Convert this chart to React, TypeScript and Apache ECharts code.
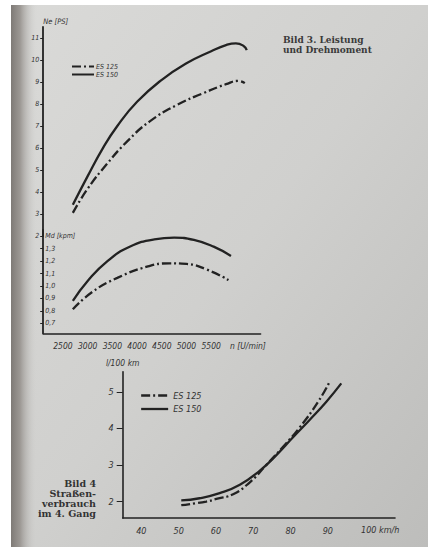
import React, { useEffect, useRef } from "react";
import * as echarts from "echarts";

// Bild 3: Leistung (Ne [PS]) über Drehzahl
const rpmPower125 = [2700, 3000, 3400, 3800, 4250, 4800, 5350, 5800, 6050, 6180];
const power125 = [3.05, 4.15, 5.3, 6.3, 7.2, 7.95, 8.5, 8.9, 9.05, 8.95];
const rpmPower150 = [2700, 3000, 3300, 3600, 4000, 4500, 5000, 5500, 5800, 6000, 6150, 6220];
const power150 = [3.42, 4.72, 5.96, 7.0, 8.1, 9.1, 9.85, 10.4, 10.68, 10.76, 10.65, 10.45];

// Bild 3: Drehmoment (Md [kpm]) über Drehzahl
const rpmTorque150 = [2700, 3000, 3400, 3850, 4350, 4750, 5150, 5550, 5900];
const torque150 = [0.88, 1.04, 1.2, 1.315, 1.375, 1.388, 1.37, 1.316, 1.241];
const rpmTorque125 = [2700, 3100, 3600, 4200, 4650, 5000, 5400, 5850];
const torque125 = [0.813, 0.954, 1.065, 1.155, 1.182, 1.177, 1.134, 1.048];

// Bild 4: Straßenverbrauch (l/100 km) über Geschwindigkeit
const speed150 = [50.7, 55.6, 61, 66.4, 71.7, 76.2, 80.6, 85.1, 89.6, 93.6];
const cons150 = [2.03, 2.09, 2.23, 2.46, 2.84, 3.27, 3.75, 4.23, 4.73, 5.23];
const speed125 = [50.7, 57.4, 60.1, 64.6, 69, 73.5, 78, 82.4, 87.4, 90.3];
const cons125 = [1.9, 2.0, 2.07, 2.2, 2.52, 3.0, 3.5, 4.02, 4.73, 5.24];

// tick labels
const rpmTicks = [2500, 3000, 3500, 4000, 4500, 5000, 5500];
const powerTicks = [2, 3, 4, 5, 6, 7, 8, 9, 10, 11];
const torqueTicks = [0.7, 0.8, 0.9, 1.0, 1.1, 1.2, 1.3];
const speedTicks = [40, 50, 60, 70, 80, 90];
const consTicks = [2, 3, 4, 5];
const seriesNames = ["ES 125", "ES 150"];

const zip = (xs: number[], ys: number[]) => xs.map((x, i) => [x, ys[i]]);

const INK = "#222";
const FONT = "'DejaVu Sans Condensed', 'Liberation Sans Narrow', 'DejaVu Sans', sans-serif";
const SERIF = "'DejaVu Serif', 'Liberation Serif', serif";
const DASHDOT = [9, 3, 2, 3];

export default function App() {
  const ref = useRef<HTMLDivElement>(null);
  useEffect(() => {
    if (!ref.current) return;
    const chart = echarts.init(ref.current, null, { renderer: "svg" });
    const line = (name: string, data: number[][], idx: number, dashed: boolean) => ({
      type: "line",
      name,
      data,
      xAxisIndex: idx,
      yAxisIndex: idx,
      smooth: 0.5,
      symbol: "none",
      lineStyle: { color: INK, width: 2.3, type: dashed ? DASHDOT : "solid" },
      itemStyle: { color: INK },
      z: 5,
    });
    const lbl = (size: number) => ({
      color: "#333",
      fontSize: size,
      fontStyle: "italic",
      fontFamily: FONT,
    });
    const plain = (v: number) => String(v);
    chart.setOption({
      animation: false,
      backgroundColor: "#d2d2d0",
      grid: [
        { left: 43.2, right: 167.4, top: 27, height: 209 },
        { left: 43.2, right: 167.4, top: 230, height: 103.3 },
        { left: 122.7, right: 33, top: 371.7, height: 146.3 },
      ],
      xAxis: [
        { type: "value", gridIndex: 0, min: 2100, max: 6500, show: false },
        {
          type: "value",
          gridIndex: 1,
          min: 2100,
          max: 6500,
          axisLine: { show: true, lineStyle: { color: INK, width: 1.6 } },
          axisTick: { show: false },
          splitLine: { show: false },
          axisLabel: { ...lbl(8.5), margin: 8, customValues: rpmTicks, formatter: plain },
        },
        {
          type: "value",
          gridIndex: 2,
          min: 35,
          max: 108,
          axisLine: { show: true, lineStyle: { color: INK, width: 1.6 } },
          axisTick: { show: false },
          splitLine: { show: false },
          axisLabel: { ...lbl(9), margin: 8, customValues: speedTicks, formatter: plain },
        },
      ],
      yAxis: [
        {
          type: "value",
          gridIndex: 0,
          min: 2,
          max: 11.5,
          name: "Ne [PS]",
          nameLocation: "end",
          nameGap: 2,
          nameTextStyle: { ...lbl(7.5), align: "left" },
          axisLine: { show: true, lineStyle: { color: INK, width: 1.8 } },
          axisTick: { show: true, length: 3, customValues: powerTicks, lineStyle: { color: INK } },
          splitLine: { show: false },
          axisLabel: { ...lbl(7), margin: 4, customValues: powerTicks, formatter: plain },
        },
        {
          type: "value",
          gridIndex: 1,
          min: 0.62,
          max: 1.45,
          axisLine: { show: true, lineStyle: { color: INK, width: 1.8 } },
          axisTick: { show: true, length: 3, customValues: torqueTicks, lineStyle: { color: INK } },
          splitLine: { show: false },
          axisLabel: {
            ...lbl(7),
            inside: true,
            margin: 2,
            customValues: [...torqueTicks, 1.4],
            formatter: (v: number) =>
              Math.abs(v - 1.4) < 1e-6 ? "Md [kpm]" : v.toFixed(1).replace(".", ","),
          },
        },
        {
          type: "value",
          gridIndex: 2,
          min: 1.55,
          max: 5.55,
          name: "l/100 km",
          nameLocation: "end",
          nameGap: 4,
          nameTextStyle: { ...lbl(8.5) },
          axisLine: { show: true, lineStyle: { color: INK, width: 1.6 } },
          axisTick: { show: true, length: 6, customValues: consTicks, lineStyle: { color: INK } },
          splitLine: { show: false },
          axisLabel: { ...lbl(9), margin: 9, customValues: consTicks, formatter: plain },
        },
      ],
      legend: [
        {
          left: 66,
          top: 58,
          orient: "vertical",
          itemWidth: 22,
          itemHeight: 8,
          itemGap: 1,
          data: seriesNames,
          itemStyle: { opacity: 0 },
          lineStyle: { width: 2 },
          textStyle: { ...lbl(7), padding: [0, 0, 0, -3] },
        },
        {
          left: 135,
          top: 386,
          orient: "vertical",
          itemWidth: 27,
          itemHeight: 9,
          itemGap: 4.5,
          data: seriesNames,
          itemStyle: { opacity: 0 },
          lineStyle: { width: 2.3 },
          textStyle: { ...lbl(9) },
        },
      ],
      graphic: [
        {
          type: "rect",
          z: -100,
          silent: true,
          shape: { x: 11, y: 5, width: 417, height: 542 },
          style: {
            fill: new echarts.graphic.LinearGradient(0, 0, 1, 1, [
              { offset: 0, color: "#dadad8" },
              { offset: 0.5, color: "#d0d0ce" },
              { offset: 1, color: "#bdbdbb" },
            ]),
          },
        },
        {
          type: "rect",
          z: -99,
          silent: true,
          shape: { x: 11, y: 5, width: 26, height: 542 },
          style: {
            fill: new echarts.graphic.LinearGradient(0, 0, 1, 0, [
              { offset: 0, color: "#7e7a76" },
              { offset: 0.35, color: "#9c9894" },
              { offset: 1, color: "rgba(210,210,208,0)" },
            ]),
          },
        },
        { type: "rect", z: -98, silent: true, shape: { x: 0, y: 0, width: 11, height: 547 }, style: { fill: "#ffffff" } },
        { type: "rect", z: -98, silent: true, shape: { x: 0, y: 0, width: 428, height: 5 }, style: { fill: "#ffffff" } },
        {
          type: "text",
          x: 283,
          y: 40,
          style: {
            text: "Bild 3. Leistung",
            font: `bold 9px ${SERIF}`,
            fill: "#3a3a3a",
            verticalAlign: "middle",
          },
        },
        {
          type: "text",
          x: 283,
          y: 49.5,
          style: {
            text: "und Drehmoment",
            font: `bold 9px ${SERIF}`,
            fill: "#3a3a3a",
            verticalAlign: "middle",
          },
        },
        {
          type: "text",
          x: 96,
          y: 478,
          style: {
            text: "Bild 4\nStraßen-\nverbrauch\nim 4. Gang",
            font: `bold 9.5px ${SERIF}`,
            fill: "#333",
            align: "right",
            lineHeight: 10,
          },
        },
        {
          type: "text",
          x: 230,
          y: 341,
          style: { text: "n [U/min]", font: `italic 8.5px ${FONT}`, fill: "#333" },
        },
        {
          type: "text",
          x: 361,
          y: 525,
          style: { text: "100 km/h", font: `italic 9px ${FONT}`, fill: "#333" },
        },
      ],
      series: [
        line("ES 125", zip(rpmPower125, power125), 0, true),
        line("ES 150", zip(rpmPower150, power150), 0, false),
        line("ES 125", zip(rpmTorque125, torque125), 1, true),
        line("ES 150", zip(rpmTorque150, torque150), 1, false),
        line("ES 125", zip(speed125, cons125), 2, true),
        line("ES 150", zip(speed150, cons150), 2, false),
      ],
    });
    return () => chart.dispose();
  }, []);
  return (
    <div
      ref={ref}
      style={{ position: "fixed", left: 0, top: 0, width: 428, height: 547 }}
    />
  );
}
